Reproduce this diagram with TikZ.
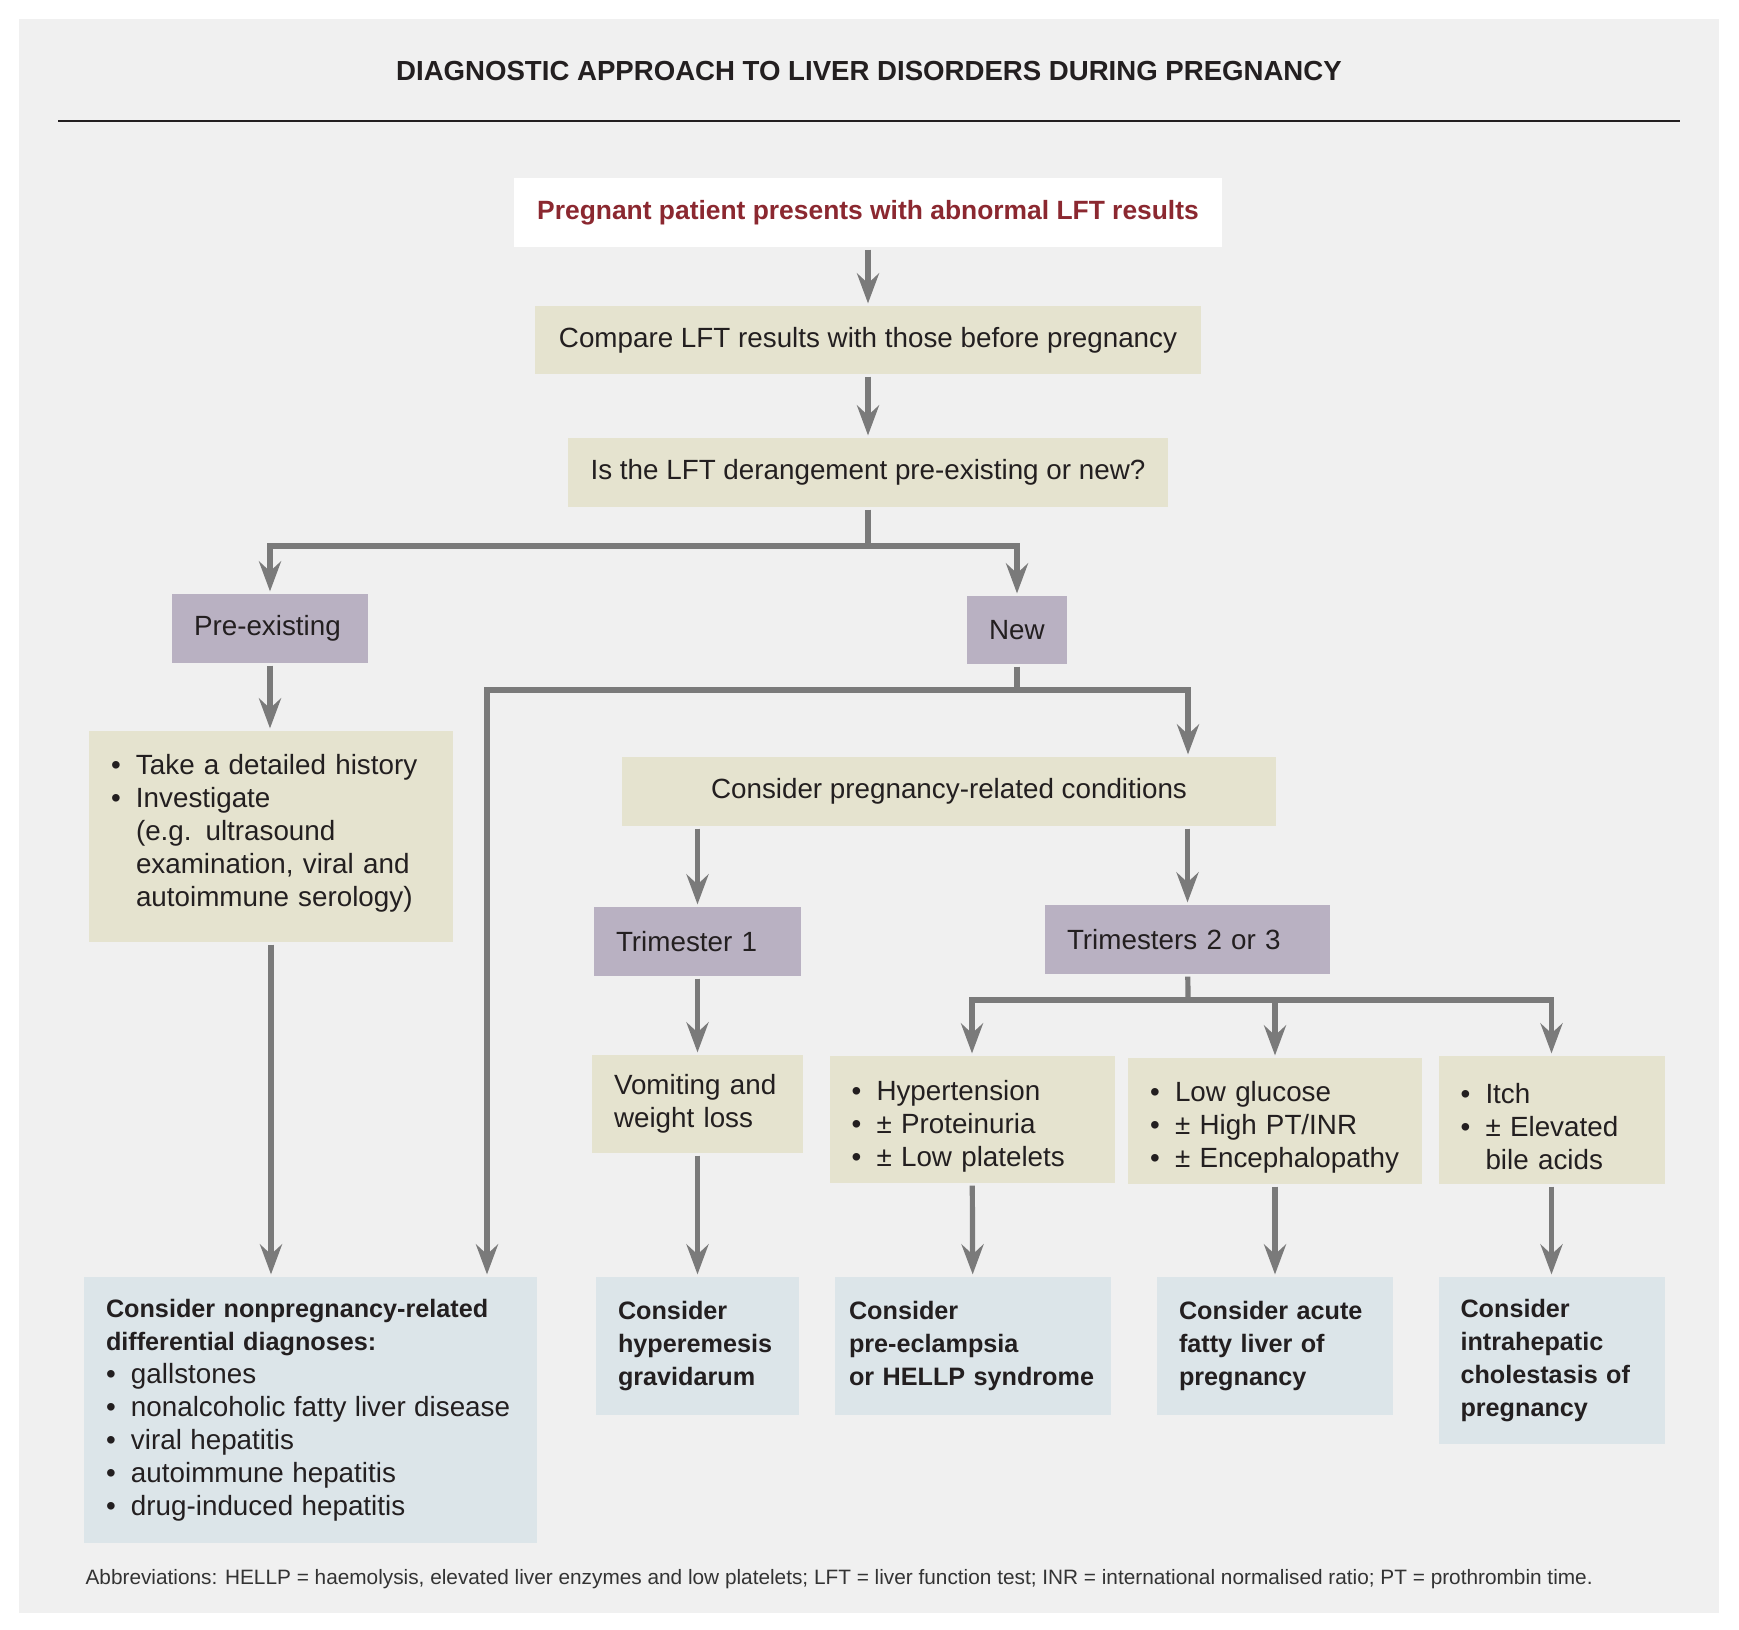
\documentclass[tikz,border=0pt]{standalone}
\usepackage{fontspec}
\setmainfont{Liberation Sans}
\usetikzlibrary{arrows.meta}
\definecolor{panel}{HTML}{F0F0F0}
\definecolor{beige}{HTML}{E5E3CF}
\definecolor{lilac}{HTML}{B9B1C2}
\definecolor{paleblue}{HTML}{DCE5E9}
\definecolor{linegray}{HTML}{7A7A7A}
\definecolor{darkred}{HTML}{8B2830}
\definecolor{ink}{HTML}{231F20}
\definecolor{notegray}{HTML}{333333}
\hyphenpenalty=10000
\newcommand{\bul}{\par\noindent\hbox to 0.9em{\textbullet\hfil}}
\newcommand{\cont}{\\\hspace*{0.9em}}
\newcommand{\bodyfont}{\normalfont\fontsize{13.9}{16.5}\selectfont}

\begin{document}
\begin{tikzpicture}[x=0.5pt,y=-0.5pt,line width=2.6pt]
\tikzstyle{box}=[inner xsep=11pt, inner ysep=0pt, align=left, text=ink, font=\bodyfont]
\tikzstyle{beigebox}=[box, fill=beige]
\tikzstyle{lilacbox}=[box, fill=lilac]
\tikzstyle{bluebox}=[box, fill=paleblue, font=\fontsize{12.6}{16.5}\selectfont\bfseries]
\tikzstyle{arr}=[draw=linegray, -{Stealth[length=15pt,width=11pt,inset=5pt]}]
\tikzstyle{link}=[draw=linegray]

\fill[white] (0,0) rectangle (1739,1629);
\fill[panel] (19,19) rectangle (1719,1613);
\node[text=ink, font=\fontsize{13.8}{16}\selectfont\bfseries] (title) at (869,71) {DIAGNOSTIC APPROACH TO LIVER DISORDERS DURING PREGNANCY};
\draw[line width=1pt, ink] (58,121) -- (1680,121);

\node[box, fill=white, align=center, text=darkred, minimum width=354pt, minimum height=34.5pt, font=\fontsize{13.2}{16.5}\selectfont\bfseries] (start) at (868,212.5) {Pregnant patient presents with abnormal LFT results};
\node[beigebox, align=center, minimum width=333pt, minimum height=34pt] (cmp) at (868,340) {Compare LFT results with those before pregnancy};
\node[beigebox, align=center, minimum width=300pt, minimum height=34.5pt] (ask) at (868,472.5) {Is the LFT derangement pre-existing or new?};
\node[lilacbox, text width=76pt, minimum height=34.5pt] (pre) at (270,628.5) {Pre-existing};
\node[lilacbox, text width=28pt, minimum height=34pt] (new) at (1017,630) {New};
\node[beigebox, text width=160pt, minimum height=105.5pt, text depth=95pt] (hist) at (271,836.5) {\bul Take a detailed history\bul Investigate\cont (e.g. ultrasound\cont examination, viral and\cont autoimmune serology)};
\node[beigebox, align=center, minimum width=327pt, minimum height=34.5pt] (cond) at (949,791.5) {Consider pregnancy-related conditions};
\node[lilacbox, text width=81.5pt, minimum height=34.5pt] (tri1) at (697.5,941.5) {Trimester 1};
\node[lilacbox, text width=120.5pt, minimum height=34.5pt] (tri23) at (1187.5,939.5) {Trimesters 2 or 3};
\node[beigebox, text width=83.5pt, minimum height=49pt] (vom) at (697.5,1104) {Vomiting and\\weight loss};
\node[beigebox, text width=120.5pt, minimum height=63.5pt] (hyp) at (972,1119.5) {\bul Hypertension\bul ± Proteinuria\bul ± Low platelets};
\node[beigebox, text width=125pt, minimum height=63pt] (glu) at (1275,1121) {\bul Low glucose\bul ± High PT/INR\bul ± Encephalopathy};
\node[beigebox, text width=91pt, minimum height=64pt] (itch) at (1551.5,1120) {\bul Itch\bul ± Elevated\cont bile acids};

\node[bluebox, text width=204.5pt, minimum height=133pt] (nonp) at (310.5,1410) {Consider nonpregnancy-related\\differential diagnoses:\par\bodyfont\bul gallstones\bul nonalcoholic fatty liver disease\bul viral hepatitis\bul autoimmune hepatitis\bul drug-induced hepatitis};
\node[bluebox, text width=79.5pt, minimum height=69pt] (hyper) at (697.5,1346) {Consider\\hyperemesis\\gravidarum};
\node[bluebox, inner xsep=7pt, text width=124pt, minimum height=69pt] (preecl) at (973,1346) {Consider\\pre-eclampsia\\or HELLP syndrome};
\node[bluebox, text width=96pt, minimum height=69pt] (afl) at (1275,1346) {Consider acute\\fatty liver of\\pregnancy};
\node[bluebox, text width=91pt, minimum height=83.5pt] (ich) at (1551.5,1360.5) {Consider\\intrahepatic\\cholestasis of\\pregnancy};

\node[anchor=west, inner sep=0pt, text=notegray, font=\fontsize{10.4}{12}\selectfont] (abbr) at (83,1579) {Abbreviations: HELLP = haemolysis, elevated liver enzymes and low platelets; LFT = liver function test; INR = international normalised ratio; PT = prothrombin time.};

\coordinate (j1) at (868,546);
\coordinate (j2) at (1017,690);
\coordinate (j3) at (487,690);
\coordinate (j4) at (1188,690);
\coordinate (j5) at (1188,1000);

\draw[arr] (start) -- (cmp);
\draw[arr] (cmp) -- (ask);
\draw[link] (ask) -- (j1);
\draw[arr] (j1) -| (pre);
\draw[arr] (j1) -| (new);
\draw[arr] (pre.south) -- (hist.north -| pre.south);
\draw[arr] (hist.south) -- (nonp.north -| hist.south);
\draw[link] (new) -- (j2);
\draw[arr] (j2) -- (j3) -- (nonp.north -| j3);
\draw[arr] (j2) -- (j4) -- (cond.north -| j4);
\draw[arr] (cond.south -| tri1.north) -- (tri1.north);
\draw[arr] (cond.south -| tri23.north) -- (tri23.north);
\draw[arr] (tri1) -- (vom);
\draw[arr] (vom) -- (hyper);
\draw[link] (tri23) -- (j5);
\draw[arr] (j5) -| (hyp);
\draw[arr] (j5) -| (glu);
\draw[arr] (j5) -| (itch);
\draw[arr] (hyp) -- (preecl);
\draw[arr] (glu) -- (afl);
\draw[arr] (itch) -- (ich);
\end{tikzpicture}
\end{document}
